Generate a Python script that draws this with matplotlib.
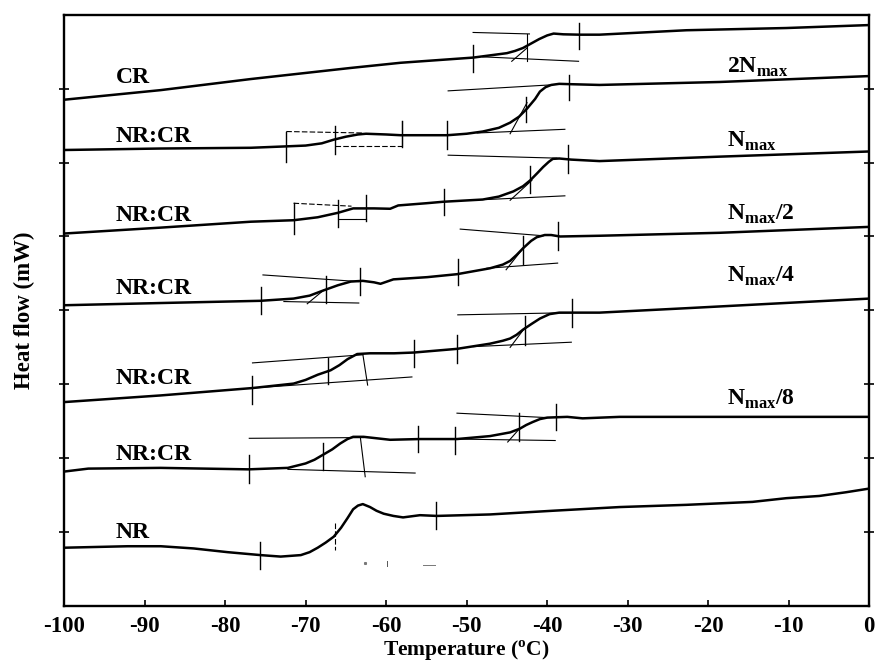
import matplotlib
matplotlib.use("Agg")
import matplotlib.pyplot as plt

plt.rcParams["font.family"] = ["Liberation Serif", "DejaVu Serif"]
plt.rcParams["font.weight"] = "bold"
plt.rcParams["mathtext.fontset"] = "custom"
plt.rcParams["mathtext.rm"] = "Liberation Serif:bold"
plt.rcParams["mathtext.bf"] = "Liberation Serif:bold"
plt.rcParams["axes.unicode_minus"] = False

# DSC traces, top to bottom (temperature in C, heat flow offset in mW)
cr_t = [-100, -88.0, -76.8, -64.4, -58.2, -49.2, -45.0, -44.0, -43.0, -42.0, -41.0, -40.0, -39.2, -38.0, -36.0, -33.5, -22.7, -10.3, 0]
cr_y = [6.85, 6.98, 7.13, 7.28, 7.35, 7.42, 7.48, 7.51, 7.55, 7.61, 7.67, 7.72, 7.745, 7.735, 7.73, 7.73, 7.79, 7.82, 7.86]

b_t = [-100, -88, -76.8, -72.2, -70, -68, -66.5, -65, -63.5, -62.5, -60, -58.2, -55, -52.4, -50, -48, -46, -44.6, -43.5, -42.5, -41.5, -40.9, -40.2, -39.5, -38.5, -37, -33.5, -18.6, 0]
b_y = [6.17, 6.19, 6.20, 6.22, 6.23, 6.26, 6.31, 6.35, 6.38, 6.39, 6.38, 6.37, 6.37, 6.37, 6.39, 6.42, 6.47, 6.54, 6.62, 6.73, 6.86, 6.96, 7.02, 7.05, 7.065, 7.06, 7.05, 7.09, 7.17]

c_t = [-100, -88, -76.8, -71.5, -68.5, -66.0, -64.1, -61.5, -59.5, -58.5, -55, -52.9, -48, -46, -44.2, -43, -42.1, -41.2, -40.5, -39.8, -39.3, -38.5, -37, -33.5, -18.6, 0]
c_y = [5.04, 5.12, 5.20, 5.22, 5.26, 5.32, 5.38, 5.38, 5.375, 5.42, 5.45, 5.47, 5.50, 5.54, 5.61, 5.68, 5.76, 5.86, 5.94, 6.01, 6.05, 6.055, 6.04, 6.02, 6.08, 6.15]

d_t = [-100, -88, -75.6, -71.5, -69.5, -67.8, -66, -64.4, -62.9, -61.5, -60.7, -59.1, -54.9, -51.2, -47.1, -45.5, -44.6, -43.8, -43.0, -42.0, -41.3, -40.3, -39.5, -38.4, -33.5, -18.6, 0]
d_y = [4.07, 4.10, 4.13, 4.16, 4.20, 4.27, 4.34, 4.39, 4.40, 4.38, 4.36, 4.42, 4.45, 4.49, 4.57, 4.62, 4.67, 4.75, 4.84, 4.94, 4.99, 5.02, 5.02, 5.00, 5.01, 5.05, 5.13]

e_t = [-100, -88, -76.6, -71.5, -70, -68.5, -66.9, -65.8, -64.8, -63.6, -62, -59, -56.6, -51.2, -47.1, -45.5, -44.6, -43.8, -43.0, -41.9, -40.9, -39.7, -38.5, -36.8, -33.5, -22.7, 0]
e_y = [2.76, 2.85, 2.95, 3.01, 3.06, 3.13, 3.19, 3.26, 3.34, 3.41, 3.42, 3.42, 3.43, 3.48, 3.55, 3.59, 3.62, 3.67, 3.74, 3.82, 3.89, 3.95, 3.97, 3.97, 3.97, 4.03, 4.16]

f_t = [-100, -97, -88, -77.1, -72.2, -70, -68.9, -67.8, -66.7, -65.7, -64.8, -64.1, -62.8, -59.5, -55.8, -51.2, -47.1, -44.6, -43.4, -42.6, -41.8, -40.9, -40.0, -37.5, -35.6, -31, 0]
f_y = [1.82, 1.86, 1.87, 1.85, 1.87, 1.93, 1.98, 2.05, 2.12, 2.20, 2.26, 2.29, 2.29, 2.25, 2.26, 2.26, 2.30, 2.35, 2.40, 2.45, 2.49, 2.53, 2.55, 2.56, 2.54, 2.56, 2.56]

nr_t = [-100, -92.1, -88, -83.9, -79.7, -75.6, -73.1, -70.6, -69.5, -68.5, -67.5, -66.5, -65.6, -64.8, -64.1, -63.5, -62.9, -62.0, -61.2, -60.3, -59.1, -57.9, -55.8, -53.7, -47.1, -39.3, -31, -22.7, -14.5, -10.3, -6.2, -2.9, 0]
nr_y = [0.79, 0.81, 0.81, 0.78, 0.73, 0.69, 0.67, 0.69, 0.73, 0.79, 0.86, 0.94, 1.06, 1.19, 1.31, 1.36, 1.38, 1.34, 1.29, 1.25, 1.22, 1.20, 1.23, 1.22, 1.24, 1.29, 1.34, 1.37, 1.41, 1.46, 1.49, 1.54, 1.59]

curves = [(cr_t, cr_y), (b_t, b_y), (c_t, c_y), (d_t, d_y), (e_t, e_y), (f_t, f_y), (nr_t, nr_y)]

# Tg marker ticks: (temperature, y top, y bottom)
marks = [
    (-49.2, 7.59, 7.23), (-36.1, 7.89, 7.54),
    (-72.4, 6.42, 6.01), (-66.4, 6.49, 6.11), (-58.0, 6.56, 6.21), (-52.5, 6.56, 6.19), (-42.6, 6.89, 6.55), (-37.3, 7.18, 6.85),
    (-71.5, 5.45, 5.04), (-66.0, 5.50, 5.13), (-62.5, 5.56, 5.21), (-52.8, 5.64, 5.29), (-42.1, 5.95, 5.59), (-37.4, 6.24, 5.86),
    (-75.6, 4.31, 3.95), (-67.5, 4.47, 4.10), (-63.3, 4.58, 4.21), (-51.1, 4.70, 4.34), (-43.0, 5.01, 4.63), (-38.7, 5.19, 4.82),
    (-76.6, 3.11, 2.74), (-67.2, 3.36, 3.00), (-56.6, 3.60, 3.24), (-51.2, 3.67, 3.29), (-42.8, 3.92, 3.53), (-36.9, 4.16, 3.78),
    (-77.0, 2.04, 1.67), (-67.8, 2.20, 1.84), (-56.0, 2.43, 2.08), (-51.4, 2.42, 2.06), (-43.5, 2.61, 2.24), (-38.9, 2.74, 2.38),
    (-75.7, 0.87, 0.50), (-53.8, 1.41, 1.04),
]

# construction lines (baselines and tangents): (t1, y1, t2, y2)
guides = [
    (-49.2, 7.76, -42.2, 7.74), (-42.5, 7.74, -42.5, 7.38), (-48.0, 7.43, -36.1, 7.37), (-44.4, 7.37, -42.5, 7.55),
    (-58.0, 6.22, -58.0, 6.56),
    (-52.3, 6.97, -39.7, 7.05), (-48.7, 6.40, -37.8, 6.45), (-44.6, 6.39, -42.5, 6.81),
    (-66.0, 5.23, -62.5, 5.23),
    (-52.3, 6.10, -38.8, 6.06), (-47.5, 5.50, -37.8, 5.55), (-44.6, 5.49, -41.9, 5.76),
    (-75.3, 4.48, -63.4, 4.39), (-72.7, 4.12, -63.4, 4.10), (-69.8, 4.09, -67.8, 4.27),
    (-50.8, 5.10, -40.5, 5.01), (-47.5, 4.57, -38.7, 4.64), (-45.1, 4.55, -43.0, 4.84),
    (-76.6, 3.29, -62.9, 3.40), (-76.6, 2.95, -56.8, 3.10), (-62.9, 3.41, -62.3, 2.99),
    (-51.1, 3.94, -36.8, 3.97), (-49.2, 3.51, -37.0, 3.57), (-44.6, 3.50, -42.8, 3.76),
    (-77.0, 2.27, -62.8, 2.28), (-72.2, 1.85, -56.4, 1.80), (-63.2, 2.28, -62.6, 1.75),
    (-51.2, 2.61, -40.0, 2.55), (-51.4, 2.26, -39.0, 2.24), (-44.9, 2.22, -43.6, 2.38),
]

# dashed bracket lines
dashed = [
    (-72.4, 6.42, -62.8, 6.40), (-66.4, 6.22, -58.0, 6.22),
    (-71.5, 5.45, -64.3, 5.41),
    (-66.4, 1.13, -66.4, 0.76),
]

left_labels = ["CR", "NR:CR", "NR:CR", "NR:CR", "NR:CR", "NR:CR", "NR"]
left_label_y = [7.07, 6.28, 5.21, 4.22, 3.01, 1.97, 0.92]
right_labels = ["2N$_{\\rm max}$", "N$_{\\rm max}$", "N$_{\\rm max}$/2", "N$_{\\rm max}$/4", "N$_{\\rm max}$/8"]
right_label_y = [7.22, 6.22, 5.22, 4.39, 2.72]

x_ticks = list(range(-100, 1, 10))
y_ticks = [1, 2, 3, 4, 5, 6, 7]

fig = plt.figure(figsize=(8.78, 6.69), dpi=100)
ax = fig.add_axes([0.073, 0.094, 0.917, 0.884])

for t, y in curves:
    ax.plot(t, y, color="black", lw=1.8, solid_capstyle="round")

for t, y1, y2 in marks:
    ax.plot([t, t], [y1, y2], color="black", lw=1.0)

for t1, y1, t2, y2 in guides:
    ax.plot([t1, t2], [y1, y2], color="black", lw=0.8)

for t1, y1, t2, y2 in dashed:
    ax.plot([t1, t2], [y1, y2], color="black", lw=0.8, linestyle=(0, (5, 2)))

# scanning specks under the NR trace
ax.plot([-62.6], [0.58], marker="s", ms=1.2, color="#777777")
ax.plot([-59.9, -59.9], [0.61, 0.54], color="#555555", lw=0.7)
ax.plot([-55.4, -53.9], [0.55, 0.55], color="#777777", lw=0.7)

for lab, y in zip(left_labels, left_label_y):
    ax.text(-93.6, y, lab, fontsize=17, fontweight="bold", ha="left", va="baseline")
for lab, y in zip(right_labels, right_label_y):
    ax.text(-17.7, y, lab, fontsize=17, fontweight="bold", ha="left", va="baseline")

ax.set_xlim(-100, 0)
ax.set_ylim(0, 8)
ax.set_xticks(x_ticks)
ax.set_xticklabels([str(v) for v in x_ticks], fontsize=16.5, fontweight="bold")
ax.set_yticks(y_ticks)
ax.set_yticklabels([])
ax.tick_params(axis="x", direction="in", length=4, width=1.2, pad=7)
ax.tick_params(axis="y", direction="inout", length=7, width=1.2, left=True, right=True)
for sp in ax.spines.values():
    sp.set_linewidth(1.7)

ax.set_xlabel("Temperature ($^{\\rm o}$C)", fontsize=15.5, fontweight="bold", labelpad=1)
ax.set_ylabel("Heat flow (mW)", fontsize=16.5, fontweight="bold", labelpad=14)

fig.savefig("out.png", dpi=100)
